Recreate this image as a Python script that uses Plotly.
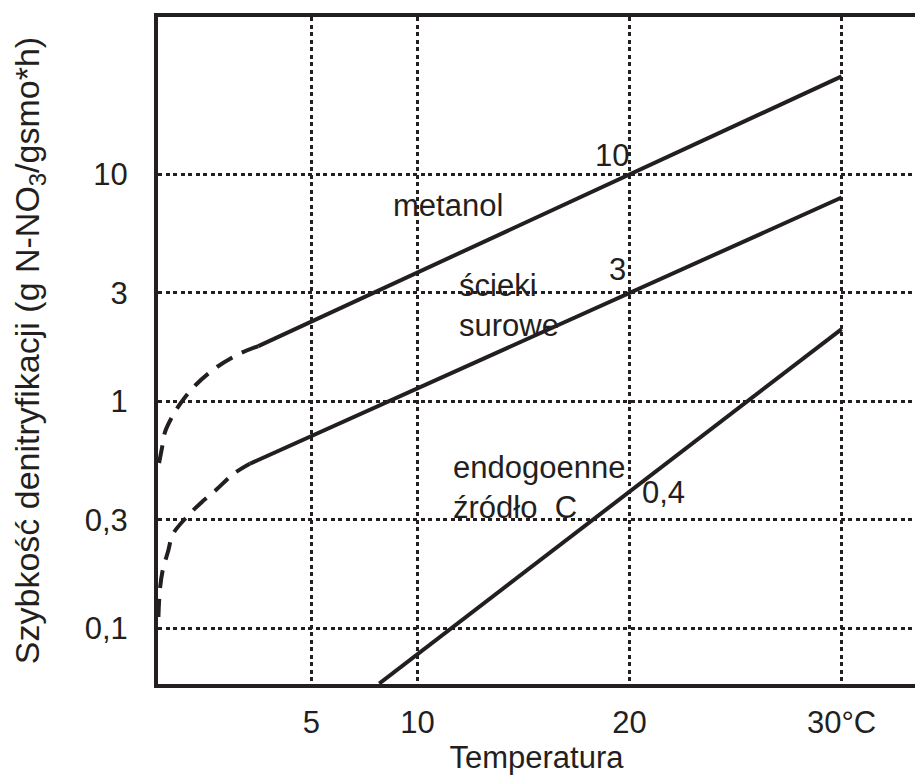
import numpy as np
import plotly.graph_objects as go

# Denitrification rate vs temperature for different carbon sources
# (rate in g N-NO3 per g of organic dry matter per hour, log scale)

# solid (measured) ranges
metanol_t = [2.5, 20, 30]
metanol_rate = [1.75, 10, 27]

scieki_t = [2.1, 20, 30]
scieki_rate = [0.53, 3, 7.9]

endo_t = [8.2, 20, 30]
endo_rate = [0.057, 0.4, 2.08]

# dashed (extrapolated) low-temperature parts
metanol_low_t = [-2.18, -2.04, -1.90, -1.57, -1.19, -0.49, 0.55, 1.64, 2.5]
metanol_low_rate = [0.534, 0.624, 0.731, 0.852, 0.972, 1.17, 1.415, 1.624, 1.75]

scieki_low_t = [-2.21, -2.14, -2.0, -1.76, -1.52, -0.86, -0.16, 0.55, 1.31, 2.1]
scieki_low_rate = [0.112, 0.148, 0.1816, 0.217, 0.26, 0.31, 0.36, 0.41, 0.477, 0.53]

# axis ticks
x_ticks = [5, 10, 20, 30]
x_ticktext = ["5", "10", "20", "30°C"]
y_ticks = [0.1, 0.3, 1, 3, 10]
y_ticktext = ["0,1", "0,3", "1", "3", "10"]

# value labels at 20 °C
label_t = 20
label_values = [10, 3, 0.4]
label_texts = ["10", "3", "0,4"]

INK = "#231f20"
FONT = "Liberation Sans, Arial, Helvetica, sans-serif"

fig = go.Figure()

solid_line = dict(color=INK, width=4)
dash_line = dict(color=INK, width=4, dash="18px,11px")

for t, r in [(metanol_t, metanol_rate), (scieki_t, scieki_rate), (endo_t, endo_rate)]:
    fig.add_trace(go.Scatter(x=t, y=r, mode="lines", line=solid_line,
                             hoverinfo="skip", showlegend=False))

for t, r in [(metanol_low_t, metanol_low_rate), (scieki_low_t, scieki_low_rate)]:
    fig.add_trace(go.Scatter(x=t, y=r, mode="lines", line=dash_line,
                             line_shape="spline", hoverinfo="skip", showlegend=False))

grid = dict(showgrid=True, gridcolor=INK, gridwidth=2.5, griddash="4px,3.5px")

fig.update_layout(
    width=915, height=778,
    margin=dict(l=158, r=0, t=17, b=94, pad=0),
    paper_bgcolor="white", plot_bgcolor="white",
    font=dict(family=FONT, size=31, color=INK),
    showlegend=False,
    xaxis=dict(range=[-2.23, 33.46], tickvals=x_ticks, ticktext=x_ticktext,
               showline=True, linewidth=4, linecolor=INK, mirror=True,
               zeroline=False, ticks="", ticklabelstandoff=8,
               tickfont=dict(size=31), automargin=False,
               title=dict(text="Temperatura", font=dict(size=31), standoff=4),
               **grid),
    yaxis=dict(type="log", range=[-1.246, 1.693], tickvals=y_ticks,
               ticktext=y_ticktext, showline=True, linewidth=4, linecolor=INK,
               mirror=False, zeroline=False, ticks="", ticklabelstandoff=20,
               tickfont=dict(size=31), automargin=False,
               title=dict(text="Szybkość denitryfikacji (g N-NO<sub>3</sub>/gsmo*h)",
                          font=dict(size=34), standoff=36),
               **grid),
)

# value labels next to the 20 °C crossings
shifts = [(-18, 19), (-12, 23), (34, -1)]
for v, txt, (dx, dy) in zip(label_values, label_texts, shifts):
    fig.add_annotation(x=label_t, y=np.log10(v), text=txt, showarrow=False,
                       xshift=dx, yshift=dy, xanchor="center", yanchor="middle",
                       font=dict(size=31))


def paper_x(px):
    return (px - 158) / 757


def paper_y(py):
    return (684 - py) / 667


series_labels = [
    ("metanol", 392, 205),
    ("ścieki<br>surowe", 458, 305),
    ("endogoenne<br>źródło  C", 452, 487),
]
for txt, px, py in series_labels:
    fig.add_annotation(x=paper_x(px), y=paper_y(py), xref="paper", yref="paper",
                       text=txt, showarrow=False, xanchor="left", yanchor="middle",
                       align="left", borderpad=0, font=dict(size=31))

fig.write_html("out.html")
